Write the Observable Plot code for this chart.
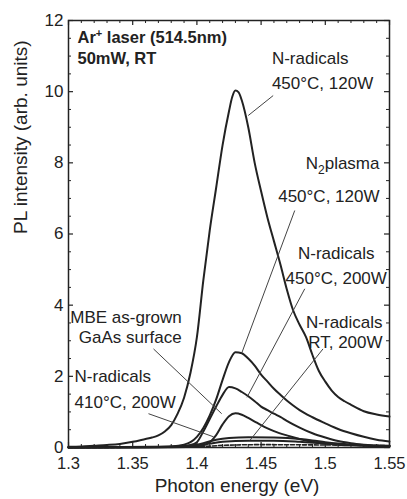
<!DOCTYPE html>
<html>
<head>
<meta charset="utf-8">
<script src="https://cdn.jsdelivr.net/npm/d3@7"></script>
<script src="https://cdn.jsdelivr.net/npm/@observablehq/plot@0.6"></script>
<style>
  html, body { margin: 0; padding: 0; background: white; }
</style>
</head>
<body>
<div id="chart"></div>
<script>
// ---- Data ----
// N-radicals 450°C, 120W
const energyA = [1.30,1.31,1.32,1.33,1.34,1.35,1.36,1.365,1.37,1.375,1.38,1.385,1.39,1.395,1.40,1.405,1.41,1.415,1.42,1.425,1.4275,1.43,1.4325,1.435,1.44,1.445,1.45,1.455,1.46,1.465,1.47,1.475,1.48,1.485,1.49,1.495,1.50,1.505,1.51,1.515,1.52,1.53,1.54,1.55];
const intensityA = [0.02,0.03,0.05,0.07,0.1,0.16,0.24,0.28,0.34,0.45,0.63,0.95,1.4,2.1,3.1,4.7,6.1,7.3,8.5,9.45,9.85,10.03,9.98,9.75,9.0,8.0,7.2,6.45,5.8,5.15,4.45,3.85,3.45,3.1,2.6,2.15,1.85,1.6,1.42,1.3,1.2,1.02,0.93,0.87];
// N2 plasma 450°C, 120W
const energyB = [1.30,1.36,1.38,1.39,1.395,1.40,1.405,1.41,1.415,1.42,1.425,1.43,1.435,1.44,1.445,1.45,1.455,1.46,1.465,1.47,1.475,1.48,1.49,1.50,1.51,1.52,1.53,1.54,1.55];
const intensityB = [0.0,0.01,0.03,0.08,0.15,0.3,0.55,0.9,1.35,1.9,2.4,2.68,2.65,2.5,2.3,2.05,1.85,1.65,1.48,1.32,1.18,1.05,0.85,0.68,0.52,0.4,0.3,0.22,0.17];
// N-radicals 450°C, 200W
const energyC = [1.30,1.37,1.385,1.395,1.40,1.405,1.41,1.415,1.42,1.425,1.43,1.435,1.44,1.445,1.45,1.455,1.46,1.465,1.47,1.48,1.49,1.50,1.51,1.52,1.53,1.54,1.55];
const intensityC = [0.0,0.01,0.03,0.07,0.15,0.45,0.8,1.15,1.48,1.7,1.66,1.56,1.44,1.3,1.15,1.05,0.95,0.86,0.75,0.56,0.4,0.28,0.18,0.12,0.08,0.05,0.04];
// MBE as-grown GaAs surface
const energyD = [1.30,1.38,1.395,1.405,1.41,1.415,1.42,1.425,1.43,1.435,1.44,1.445,1.45,1.455,1.46,1.47,1.48,1.49,1.50,1.51,1.52,1.53,1.55];
const intensityD = [0.0,0.01,0.02,0.06,0.15,0.35,0.65,0.88,0.96,0.92,0.83,0.73,0.63,0.54,0.46,0.34,0.24,0.16,0.11,0.08,0.06,0.05,0.03];
// N-radicals RT, 200W
const energyE = [1.30,1.38,1.395,1.405,1.415,1.425,1.44,1.46,1.48,1.49,1.50,1.51,1.52,1.53,1.55];
const intensityE = [0.01,0.02,0.05,0.12,0.22,0.27,0.29,0.28,0.24,0.2,0.15,0.11,0.08,0.06,0.04];
// N-radicals 410°C, 200W
const energyF = [1.30,1.39,1.40,1.41,1.42,1.44,1.46,1.48,1.50,1.52,1.55];
const intensityF = [0.01,0.02,0.05,0.11,0.16,0.19,0.19,0.16,0.11,0.07,0.05];
// weak dashed trace near zero
const energyG = [1.30,1.40,1.42,1.45,1.50,1.55];
const intensityG = [0.0,0.02,0.06,0.08,0.07,0.05];

const xTickValues = [1.3, 1.35, 1.4, 1.45, 1.5, 1.55];
const yTickValues = [0, 2, 4, 6, 8, 10, 12];

// annotation labels (data coordinates)
const labelText   = ["N-radicals", "450°C, 120W", "N2plasma", "450°C, 120W", "N-radicals", "450°C, 200W", "N-radicals", "RT, 200W", "MBE as-grown", "GaAs surface", "N-radicals", "410°C, 200W"];
const labelEnergy = [1.4584, 1.4584, 1.5422, 1.5422, 1.5085, 1.5085, 1.5446, 1.5446, 1.3882, 1.3882, 1.3047, 1.3047];
const labelValue  = [10.93, 10.22, 7.98, 7.04, 5.44, 4.74, 3.52, 2.96, 3.66, 3.10, 1.98, 1.27];
const labelAnchor = ["start","start","end","end","middle","middle","end","end","end","end","start","start"];

// pointer lines (data coordinates)
const pointerE1 = [1.4594, 1.4762, 1.4840, 1.4982, 1.3662, 1.3623];
const pointerV1 = [9.89, 6.66, 4.46, 2.77, 2.77, 0.95];
const pointerE2 = [1.4400, 1.4351, 1.4390, 1.4413, 1.4193, 1.4130];
const pointerV2 = [9.33, 2.67, 1.41, 0.20, 0.95, 0.30];

const headerText = ["Ar+ laser (514.5nm)", "50mW, RT"];
const headerValue = [11.53, 10.93];
const headerEnergy = 1.307;

// ---- build tables ----
function series(name, es, vs) { return es.map((e, i) => ({series: name, e, v: vs[i]})); }
const solid = [
  ...series("A", energyA, intensityA),
  ...series("B", energyB, intensityB),
  ...series("C", energyC, intensityC),
  ...series("D", energyD, intensityD),
  ...series("E", energyE, intensityE),
  ...series("F", energyF, intensityF)
];
const dashed = series("G", energyG, intensityG);
const labels = labelText.map((t, i) => ({t, e: labelEnergy[i], v: labelValue[i], a: labelAnchor[i]}));
const pointers = pointerE1.map((e, i) => ({e1: e, v1: pointerV1[i], e2: pointerE2[i], v2: pointerV2[i]}));
const headers = headerText.map((t, i) => ({t, v: headerValue[i]}));

const W = 407, H = 499, mL = 68, mR = 18, mT = 20, mB = 52;
const fw = W - mL - mR, fh = H - mT - mB;
const minorX = d3.range(131, 155).map(d => d / 100).filter(d => Math.round(d * 100) % 5 !== 0);
const minorY = d3.range(1, 24).filter(d => d % 4 !== 0).map(d => d / 2);
const ink = "#222";
const majorLen = 5, minorLen = 3;

const chart = Plot.plot({
  width: W, height: H,
  marginLeft: mL, marginRight: mR, marginTop: mT, marginBottom: mB,
  x: {domain: [1.3, 1.55]},
  y: {domain: [0, 12]},
  style: {fontFamily: "'Liberation Sans', Arial, sans-serif", fontSize: "17px", color: ink, background: "white"},
  marks: [
    // ticks inward on all four sides
    Plot.tickX(xTickValues, {x: d => d, insetTop: fh - majorLen, stroke: ink, strokeWidth: 1.2}),
    Plot.tickX(xTickValues, {x: d => d, insetBottom: fh - majorLen, stroke: ink, strokeWidth: 1.2}),
    Plot.tickX(minorX, {x: d => d, insetTop: fh - minorLen, stroke: ink, strokeWidth: 1}),
    Plot.tickX(minorX, {x: d => d, insetBottom: fh - minorLen, stroke: ink, strokeWidth: 1}),
    Plot.tickY(yTickValues, {y: d => d, insetRight: fw - majorLen, stroke: ink, strokeWidth: 1.2}),
    Plot.tickY(yTickValues, {y: d => d, insetLeft: fw - majorLen, stroke: ink, strokeWidth: 1.2}),
    Plot.tickY(minorY, {y: d => d, insetRight: fw - minorLen, stroke: ink, strokeWidth: 1}),
    Plot.tickY(minorY, {y: d => d, insetLeft: fw - minorLen, stroke: ink, strokeWidth: 1}),
    Plot.axisX(xTickValues, {tickSize: 0, tickPadding: 10, tickFormat: d => String(d), fontSize: 16.5, label: null}),
    Plot.axisY(yTickValues, {tickSize: 0, tickPadding: 5, tickFormat: d => String(d), fontSize: 17, label: null}),
    // curves
    Plot.line(dashed, {x: "e", y: "v", stroke: ink, strokeWidth: 1.6, strokeDasharray: "4,2", curve: "monotone-x"}),
    Plot.line(solid, {x: "e", y: "v", z: "series", stroke: ink, strokeWidth: 2, curve: "monotone-x"}),
    // pointers
    Plot.link(pointers, {x1: "e1", y1: "v1", x2: "e2", y2: "v2", stroke: "#444", strokeWidth: 1}),
    // labels
    Plot.text(labels.filter(d => d.a === "start"), {x: "e", y: "v", text: "t", textAnchor: "start", fontSize: 17, fill: ink}),
    Plot.text(labels.filter(d => d.a === "middle"), {x: "e", y: "v", text: "t", textAnchor: "middle", fontSize: 17, fill: ink}),
    Plot.text(labels.filter(d => d.a === "end"), {x: "e", y: "v", text: "t", textAnchor: "end", fontSize: 17, fill: ink}),
    Plot.text(headers, {x: () => headerEnergy, y: "v", text: "t", textAnchor: "start", fontSize: 16.5, fontWeight: "bold", fill: ink}),
    // axis titles
    Plot.text(["Photon energy (eV)"], {frameAnchor: "bottom", dx: 8, dy: 44, fontSize: 19, fill: ink}),
    Plot.text(["PL intensity (arb. units)"], {frameAnchor: "left", dx: -48, rotate: -90, fontSize: 19, fill: ink}),
    Plot.frame({stroke: ink, strokeWidth: 1.5})
  ]
});

document.getElementById("chart").appendChild(chart);

// superscript / subscript in annotation texts
const svgNS = "http://www.w3.org/2000/svg";
chart.querySelectorAll("text").forEach(t => {
  const s = t.textContent;
  if (s === "Ar+ laser (514.5nm)") {
    t.textContent = "";
    const a = document.createElementNS(svgNS, "tspan"); a.textContent = "Ar";
    const b = document.createElementNS(svgNS, "tspan"); b.textContent = "+"; b.setAttribute("dy", "-6"); b.setAttribute("font-size", "11");
    const c = document.createElementNS(svgNS, "tspan"); c.textContent = " laser (514.5nm)"; c.setAttribute("dy", "6");
    t.append(a, b, c);
  } else if (s === "N2plasma") {
    t.textContent = "";
    const a = document.createElementNS(svgNS, "tspan"); a.textContent = "N";
    const b = document.createElementNS(svgNS, "tspan"); b.textContent = "2"; b.setAttribute("dy", "5"); b.setAttribute("font-size", "12");
    const c = document.createElementNS(svgNS, "tspan"); c.textContent = "plasma"; c.setAttribute("dy", "-5");
    t.append(a, b, c);
  }
});
</script>
</body>
</html>
